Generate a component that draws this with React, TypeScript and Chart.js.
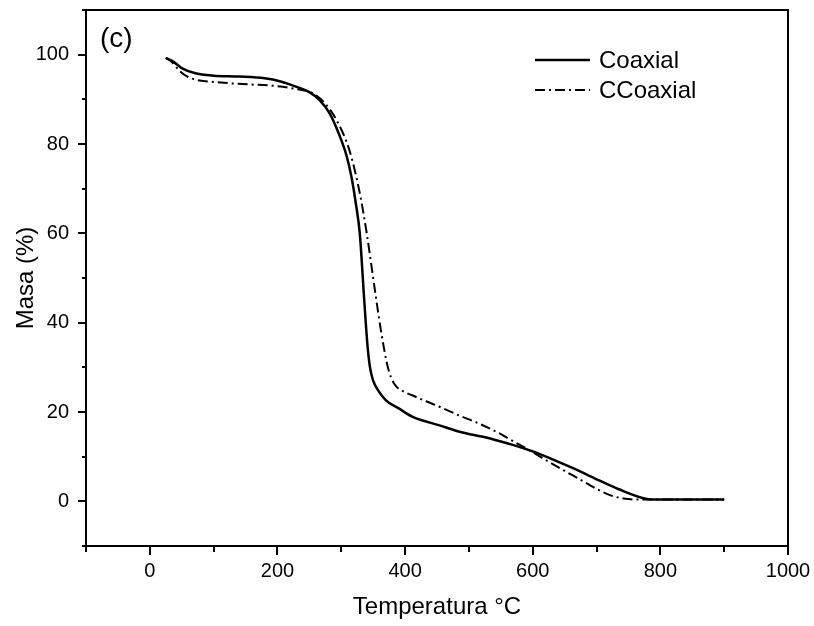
import React, { useEffect, useRef } from "react";
import { Chart, registerables } from "chart.js";

Chart.register(...registerables);

// ---- Data ----
const coaxialTemp = [25, 35, 50, 70, 100, 140, 180, 205, 230, 250, 266, 282, 297, 308, 316, 323, 329, 336, 341, 345, 350, 357, 370, 390, 412, 454, 490, 527, 560, 600, 631, 665, 704, 735, 777, 800, 850, 900];
const coaxialMass = [99.3, 98.6, 97.0, 95.9, 95.3, 95.1, 94.7, 94.0, 92.8, 91.6, 89.8, 86.8, 82.0, 77.5, 72.6, 66.5, 60.0, 45.0, 35.0, 30.0, 27.0, 25.0, 22.6, 20.8, 18.9, 17.0, 15.4, 14.3, 13.0, 11.2, 9.4, 7.3, 4.7, 2.7, 0.6, 0.4, 0.4, 0.4];

const ccoaxialTemp = [25, 35, 47, 60, 78, 100, 125, 160, 188, 230, 255, 275, 292, 313, 329, 340, 349, 355, 363, 373, 383, 395, 410, 433, 460, 485, 516, 548, 569, 600, 621, 650, 673, 700, 725, 750, 770, 800, 850, 900];
const ccoaxialMass = [99.3, 98.3, 96.3, 95.0, 94.2, 93.9, 93.6, 93.3, 93.1, 92.3, 91.4, 89.0, 85.5, 78.5, 69.0, 59.9, 51.0, 45.0, 37.5, 30.0, 26.3, 24.8, 23.8, 22.4, 20.8, 19.2, 17.4, 15.2, 13.5, 11.0, 9.2, 6.8, 5.0, 2.8, 1.2, 0.5, 0.4, 0.4, 0.4, 0.4];

const seriesLabels = ["Coaxial", "CCoaxial"];
const xTickValues = [0, 200, 400, 600, 800, 1000];
const yTickValues = [0, 20, 40, 60, 80, 100];
const xMinorTicks = [-100, 100, 300, 500, 700, 900];
const yMinorTicks = [-10, 10, 30, 50, 70, 90, 110];
const xTitle = "Temperatura °C";
const yTitle = "Masa (%)";
const panelLabel = "(c)";

const FONT = "'Liberation Sans', Arial, sans-serif";
const DASH = [10, 4, 2, 4];

const framePlugin = {
  id: "frame",
  afterDraw(chart: any) {
    const { ctx, chartArea } = chart;
    const xs = chart.scales.x;
    const ys = chart.scales.y;
    ctx.save();
    ctx.strokeStyle = "#000";
    ctx.lineWidth = 2;
    ctx.strokeRect(chartArea.left, chartArea.top, chartArea.right - chartArea.left, chartArea.bottom - chartArea.top);
    ctx.beginPath();
    xTickValues.forEach((v) => {
      const p = Math.round(xs.getPixelForValue(v));
      ctx.moveTo(p, chartArea.bottom);
      ctx.lineTo(p, chartArea.bottom + 9);
    });
    xMinorTicks.forEach((v) => {
      const p = Math.round(xs.getPixelForValue(v));
      ctx.moveTo(p, chartArea.bottom);
      ctx.lineTo(p, chartArea.bottom + 6);
    });
    yTickValues.forEach((v) => {
      const p = Math.round(ys.getPixelForValue(v));
      ctx.moveTo(chartArea.left, p);
      ctx.lineTo(chartArea.left - 8, p);
    });
    yMinorTicks.forEach((v) => {
      const p = Math.round(ys.getPixelForValue(v));
      ctx.moveTo(chartArea.left, p);
      ctx.lineTo(chartArea.left - 4, p);
    });
    ctx.stroke();

    // panel label
    ctx.fillStyle = "#000";
    ctx.font = `28px ${FONT}`;
    ctx.textBaseline = "middle";
    ctx.textAlign = "left";
    ctx.fillText(panelLabel, chartArea.left + 14, chartArea.top + 29);

    // legend
    const lx0 = 535, lx1 = 590, tx = 599;
    const rows = [60, 90];
    chart.data.datasets.forEach((ds: any, i: number) => {
      ctx.beginPath();
      ctx.setLineDash(ds.borderDash || []);
      ctx.lineWidth = ds.borderWidth;
      ctx.moveTo(lx0, rows[i]);
      ctx.lineTo(lx1, rows[i]);
      ctx.stroke();
      ctx.setLineDash([]);
      ctx.font = `24px ${FONT}`;
      ctx.fillText(ds.label, tx, rows[i] + 1);
    });
    ctx.restore();
  },
};

export default function App() {
  const ref = useRef<HTMLCanvasElement>(null);
  useEffect(() => {
    if (!ref.current) return;
    const chart = new Chart(ref.current, {
      type: "line",
      data: {
        datasets: [
          {
            label: seriesLabels[0],
            data: coaxialTemp.map((t, i) => ({ x: t, y: coaxialMass[i] })),
            borderColor: "#000",
            borderWidth: 2.5,
            pointRadius: 0,
            fill: false,
            cubicInterpolationMode: "monotone",
          },
          {
            label: seriesLabels[1],
            data: ccoaxialTemp.map((t, i) => ({ x: t, y: ccoaxialMass[i] })),
            borderColor: "#000",
            borderWidth: 2,
            borderDash: DASH,
            pointRadius: 0,
            fill: false,
            cubicInterpolationMode: "monotone",
          },
        ],
      },
      options: {
        responsive: false,
        animation: false,
        devicePixelRatio: 1,
        layout: { padding: { top: 10, right: 26, left: 0, bottom: 0 } },
        plugins: { legend: { display: false }, tooltip: { enabled: false } },
        scales: {
          x: {
            type: "linear",
            min: -100,
            max: 1000,
            afterBuildTicks: (s: any) => {
              s.ticks = xTickValues.map((v) => ({ value: v }));
            },
            afterFit: (s: any) => {
              s.height = 80;
              s.paddingLeft = 0;
              s.paddingRight = 0;
              s.paddingTop = 0;
              s.paddingBottom = 0;
            },
            grid: { display: true, drawOnChartArea: false, drawTicks: true, tickLength: 8, color: "rgba(0,0,0,0)" },
            border: { display: false },
            ticks: { color: "#000", font: { family: FONT, size: 20 }, padding: 5, maxRotation: 0, autoSkip: false, callback: (v: any) => String(v) },
            title: { display: true, text: xTitle, color: "#000", font: { family: FONT, size: 24 }, padding: { top: 0, bottom: 4 } },
          },
          y: {
            type: "linear",
            min: -10,
            max: 110,
            afterBuildTicks: (s: any) => {
              s.ticks = yTickValues.map((v) => ({ value: v }));
            },
            afterFit: (s: any) => {
              s.width = 86;
              s.paddingLeft = 0;
              s.paddingRight = 0;
              s.paddingTop = 0;
              s.paddingBottom = 0;
            },
            grid: { display: true, drawOnChartArea: false, drawTicks: true, tickLength: 8, color: "rgba(0,0,0,0)" },
            border: { display: false },
            ticks: { color: "#000", font: { family: FONT, size: 20 }, padding: 9, autoSkip: false, callback: (v: any) => String(v) },
            title: { display: true, text: yTitle, color: "#000", font: { family: FONT, size: 24 }, padding: { top: 12, bottom: 0 } },
          },
        },
      },
      plugins: [framePlugin],
    } as any);
    return () => chart.destroy();
  }, []);
  return (
    <div style={{ position: "absolute", left: 0, top: 0, width: 814, height: 626, background: "#fff" }}>
      <canvas ref={ref} width={814} height={626} style={{ width: 814, height: 626, display: "block" }} />
    </div>
  );
}
